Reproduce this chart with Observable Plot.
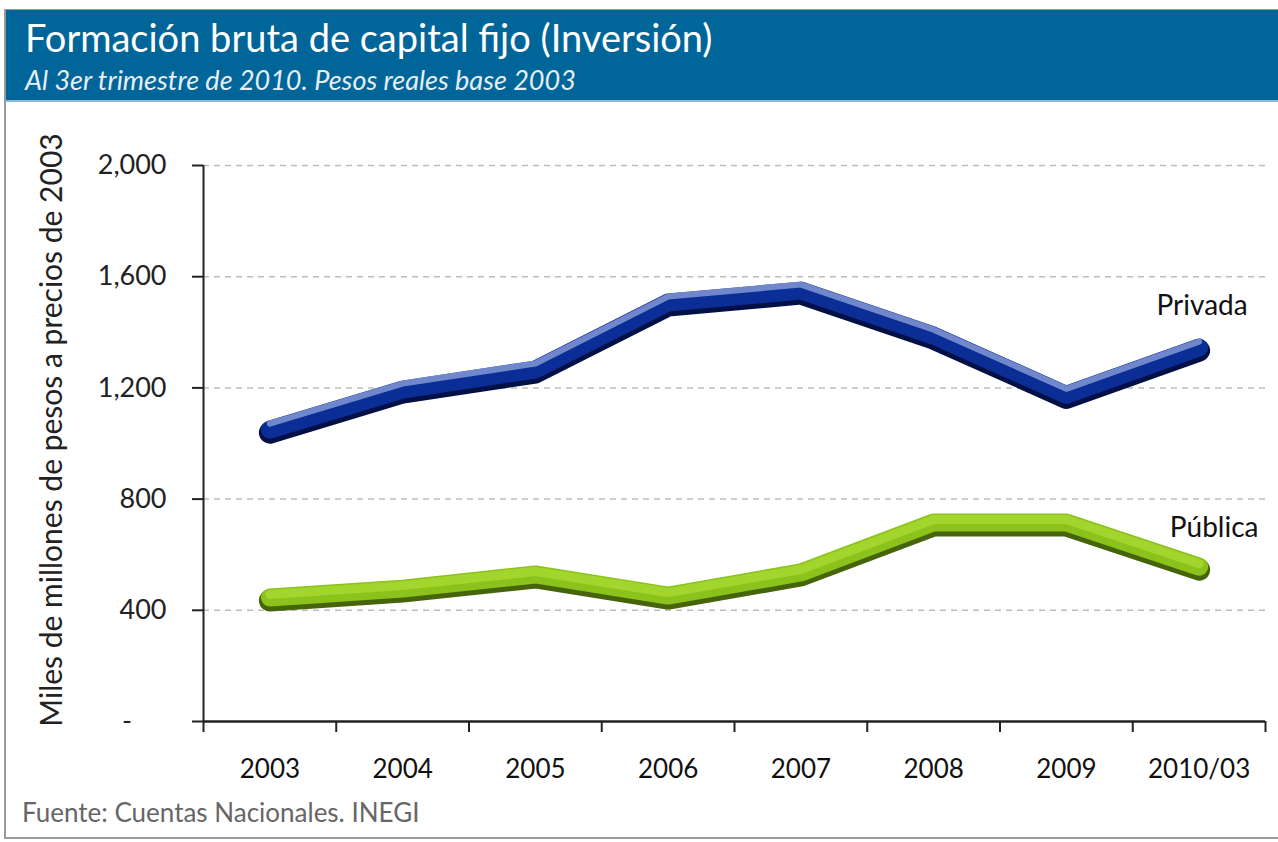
<!DOCTYPE html>
<html>
<head>
<meta charset="utf-8">
<script src="https://cdn.jsdelivr.net/npm/d3@7"></script>
<script src="https://cdn.jsdelivr.net/npm/@observablehq/plot@0.6"></script>
<style>
  html, body { margin: 0; padding: 0; background: #fff; }
  body { width: 1278px; height: 842px; position: relative; overflow: hidden; font-family: Lato, "Open Sans", sans-serif; }
  #frame { position: absolute; left: 4px; top: 9px; width: 1274px; height: 830px; border-left: 2px solid #9a9a9a; border-top: 1px solid #9a9a9a; border-bottom: 2px solid #9a9a9a; box-sizing: border-box; }
  #header { position: absolute; left: 6px; top: 10px; width: 1272px; height: 92px; background: #006699; border-bottom: 2px solid #8fb8d4; box-sizing: border-box; }
  #title { position: absolute; left: 25px; top: 15px; color: #fff; font-size: 38px; line-height: 1.2; white-space: nowrap; }
  #subtitle { position: absolute; left: 25px; top: 64px; color: #e6eef5; font-size: 27px; line-height: 1.2; font-style: italic; white-space: nowrap; }
  #ylabel { position: absolute; left: 50px; top: 430px; transform: translate(-50%, -50%) rotate(-90deg); font-size: 30px; color: #222; white-space: nowrap; }
  #chart { position: absolute; left: 0; top: 110px; }
  #source { position: absolute; left: 22px; top: 797px; font-size: 26px; line-height: 1.2; color: #666; white-space: nowrap; }
</style>
</head>
<body>
<div id="frame"></div>
<div id="header"></div>
<div id="title">Formación bruta de capital fijo (Inversión)</div>
<div id="subtitle">Al 3er trimestre de 2010. Pesos reales base 2003</div>
<div id="ylabel">Miles de millones de pesos a precios de 2003</div>
<div id="chart"></div>
<div id="source">Fuente: Cuentas Nacionales. INEGI</div>
<script>
const categories = ["2003", "2004", "2005", "2006", "2007", "2008", "2009", "2010/03"];
const privada = [1050, 1194, 1266, 1507, 1550, 1388, 1175, 1345];
const publica = [446, 478, 529, 453, 536, 716, 716, 557];
const yTicks = [0, 400, 800, 1200, 1600, 2000];
const seriesLabels = ["Privada", "Pública"];

const rows = categories.map((c, i) => ({x: i + 0.5, cat: c, privada: privada[i], publica: publica[i]}));
const boundaries = categories.map((c, i) => i).concat([categories.length]);
const centers = categories.map((c, i) => i + 0.5);
const last = rows[rows.length - 1];

const fmtY = d => d === 0 ? "-\u00a0\u00a0\u00a0\u00a0\u00a0" : d3.format(",")(d);

const lineOpts = {strokeLinecap: "round", strokeLinejoin: "round"};

const plot = Plot.plot({
  width: 1278,
  height: 690,
  marginLeft: 203,
  marginRight: 13,
  marginTop: 55,
  marginBottom: 79,
  style: {fontFamily: "Lato, 'Open Sans', sans-serif", background: "transparent"},
  x: {type: "linear", domain: [0, categories.length], axis: null},
  y: {domain: [0, 2000], axis: null},
  marks: [
    Plot.gridY(yTicks.filter(d => d > 0), {stroke: "#bdbdbd", strokeOpacity: 1, strokeWidth: 1.5, strokeDasharray: "6,5"}),
    Plot.axisY(yTicks, {tickSize: 11, tickPadding: 26, tickFormat: fmtY, fontSize: 27, color: "#222", stroke: "#222", strokeWidth: 2, label: null}),
    Plot.axisX(boundaries, {tickSize: 11, tickFormat: () => "", stroke: "#222", strokeWidth: 2, label: null}),
    Plot.axisX(centers, {tickSize: 0, tickPadding: 38, tickFormat: d => categories[Math.round(d - 0.5)], fontSize: 26, color: "#111", label: null}),
    Plot.ruleX([0], {y1: 0, y2: 2000, stroke: "#222", strokeWidth: 2}),
    Plot.ruleY([0], {stroke: "#222", strokeWidth: 2.5}),
    // Privada (3D-ish tube)
    Plot.line(rows, {x: "x", y: "privada", stroke: "#031045", strokeWidth: 22, dy: 3, ...lineOpts}),
    Plot.line(rows, {x: "x", y: "privada", stroke: "#0b2d96", strokeWidth: 18, dy: 0, ...lineOpts}),
    Plot.line(rows, {x: "x", y: "privada", stroke: "#8498d6", strokeWidth: 6, dy: -6, strokeOpacity: 0.85, ...lineOpts}),
    // Pública
    Plot.line(rows, {x: "x", y: "publica", stroke: "#46650a", strokeWidth: 22, dy: 3, ...lineOpts}),
    Plot.line(rows, {x: "x", y: "publica", stroke: "#8cc21c", strokeWidth: 18, dy: 0, ...lineOpts}),
    Plot.line(rows, {x: "x", y: "publica", stroke: "#a3d62c", strokeWidth: 9, dy: -3, ...lineOpts}),
    // Series labels
    Plot.text([last], {x: "x", y: "privada", text: () => seriesLabels[0], dx: 3, dy: -42, fontSize: 28, fill: "#111"}),
    Plot.text([last], {x: "x", y: "publica", text: () => seriesLabels[1], dx: 15, dy: -39, fontSize: 28, fill: "#111"})
  ]
});
document.getElementById("chart").appendChild(plot);
</script>
</body>
</html>
